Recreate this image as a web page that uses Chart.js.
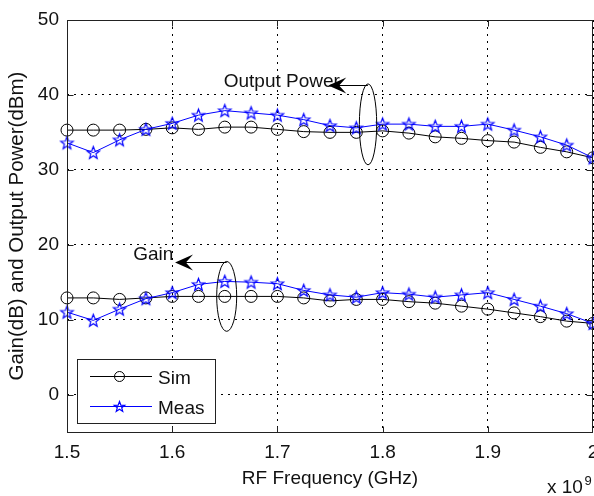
<!DOCTYPE html>
<html><head><meta charset="utf-8">
<script src="https://cdn.jsdelivr.net/npm/chart.js@4/dist/chart.umd.min.js"></script>
<style>html,body{margin:0;padding:0;background:#fff;overflow:hidden}#wrap{width:594px;height:496px;position:relative}</style>
</head><body><div id="wrap"><canvas id="c" width="594" height="496"></canvas></div>
<script>
// ---- data ----
const freqGHz   = [1.5,1.525,1.55,1.575,1.6,1.625,1.65,1.675,1.7,1.725,1.75,1.775,1.8,1.825,1.85,1.875,1.9,1.925,1.95,1.975,2.0];
const powerSim  = [35.3,35.3,35.3,35.4,35.6,35.4,35.7,35.7,35.4,35.1,35.0,35.0,35.2,34.9,34.4,34.2,33.9,33.7,33.0,32.4,31.6];
const powerMeas = [33.6,32.3,34.0,35.4,36.2,37.3,37.9,37.6,37.3,36.7,35.9,35.6,36.1,36.1,35.8,35.8,36.1,35.3,34.4,33.3,31.6];
const gainSim   = [12.9,12.9,12.7,12.9,13.1,13.1,13.1,13.1,13.1,12.9,12.5,12.7,12.7,12.4,12.2,11.8,11.4,10.9,10.4,9.8,9.5];
const gainMeas  = [11.0,9.9,11.4,12.8,13.6,14.7,15.1,15.0,14.8,13.9,13.3,13.0,13.6,13.4,13.0,13.3,13.6,12.7,11.8,10.8,9.5];
const xTicks = [1.5,1.6,1.7,1.8,1.9,2.0];
const xTickLabels = ['1.5','1.6','1.7','1.8','1.9','2'];
const yTicks = [0,10,20,30,40,50];
const yTickLabels = ['0','10','20','30','40','50'];
const seriesNames = ['Sim','Meas'];
const xTitle = 'RF Frequency (GHz)';
const yTitle = 'Gain(dB) and Output Power(dBm)';
const xExponentBase = 'x 10';
const xExponent = '9';
const powerLabel = 'Output Power';
const gainLabel = 'Gain';

const FONT = "'Liberation Sans', Arial, Helvetica, sans-serif";
const TXT = '#111';
const BLUE = '#0000ff';

function makeStar(r, color){
  const s = Math.ceil(2*r + 4);
  const c = document.createElement('canvas');
  c.width = c.height = s;
  const g = c.getContext('2d');
  g.strokeStyle = color; g.lineWidth = 1.2;
  g.beginPath();
  for (let i = 0; i < 10; i++) {
    const a = -Math.PI/2 + i*Math.PI/5;
    const rr = (i % 2) ? r*0.42 : r;
    const px = s/2 + rr*Math.cos(a), py = s/2 + 0.5 + rr*Math.sin(a);
    if (i) g.lineTo(px, py); else g.moveTo(px, py);
  }
  g.closePath(); g.stroke();
  return c;
}
const starImg = makeStar(6.5, BLUE);
const starLegend = makeStar(5.5, BLUE);

const pts = arr => freqGHz.map((f, i) => ({x: f, y: arr[i]}));
const simStyle = {borderColor:'#000', backgroundColor:'rgba(0,0,0,0)', borderWidth:1, pointStyle:'circle', pointRadius:6,
  pointBorderColor:'#000', pointBackgroundColor:'rgba(0,0,0,0)', pointBorderWidth:1, tension:0, clip:false, order:1};
const measStyle = {borderColor:BLUE, backgroundColor:'rgba(0,0,0,0)', borderWidth:1, pointStyle:starImg, pointRadius:6,
  pointBorderColor:BLUE, pointBackgroundColor:'rgba(0,0,0,0)', pointBorderWidth:1, tension:0, clip:false, order:0};

function arrow(ctx, x1, y1, xt, yt){
  ctx.beginPath(); ctx.moveTo(x1, y1); ctx.lineTo(xt + 10, yt); ctx.stroke();
  const L = 18, W = 8;
  ctx.beginPath();
  ctx.moveTo(xt, yt);
  ctx.lineTo(xt + L, yt - W);
  ctx.lineTo(xt + L*0.6, yt);
  ctx.lineTo(xt + L, yt + W);
  ctx.closePath(); ctx.fill();
}
function ellipse(ctx, xs, ys, x0, x1, y0, y1){
  const a = xs.getPixelForValue(x0), b = xs.getPixelForValue(x1);
  const c = ys.getPixelForValue(y0), d = ys.getPixelForValue(y1);
  ctx.beginPath();
  ctx.ellipse((a+b)/2, (c+d)/2, Math.abs(b-a)/2, Math.abs(d-c)/2, 0, 0, Math.PI*2);
  ctx.stroke();
}

const zeroPad = () => ({left: 0, top: 0, right: 0, bottom: 0});

const framePlugin = {
  id: 'frame',
  afterLayout(chart){
    // keep the plot area running to the right edge, like the reference
    const target = chart.width - 1;
    const ca = chart.chartArea, xs = chart.scales.x;
    if (Math.abs(ca.right - target) > 0.1) {
      ca.right = target; ca.width = target - ca.left;
      xs.right = target; xs.width = target - xs.left;
      xs.configure();
    }
  },
  afterDraw(chart){
    const {ctx, chartArea: ca, scales: {x, y}} = chart;
    ctx.save();
    // annotations
    ctx.strokeStyle = '#000'; ctx.fillStyle = TXT; ctx.lineWidth = 1;
    ctx.font = '19px ' + FONT; ctx.textAlign = 'left'; ctx.textBaseline = 'middle';
    ctx.fillText(powerLabel, x.getPixelForValue(1.649), y.getPixelForValue(41.7));
    ctx.fillText(gainLabel, x.getPixelForValue(1.563), y.getPixelForValue(18.6));
    ctx.fillStyle = '#000';
    ellipse(ctx, x, y, 1.7779, 1.7944, 30.67, 41.47);
    ellipse(ctx, x, y, 1.6423, 1.6613, 8.44, 17.77);
    arrow(ctx, x.getPixelForValue(1.786), Math.round(y.getPixelForValue(41.33))+0.5, x.getPixelForValue(1.7484), Math.round(y.getPixelForValue(41.33))+0.5);
    arrow(ctx, x.getPixelForValue(1.6518), Math.round(y.getPixelForValue(17.64))+0.5, x.getPixelForValue(1.6027), Math.round(y.getPixelForValue(17.64))+0.5);

    // axes box and inward ticks
    const L = Math.floor(ca.left) + 0.5, R = Math.round(ca.right) - 0.5;
    const T = Math.floor(ca.top) + 0.5, B = Math.round(ca.bottom) + 0.5;
    ctx.strokeStyle = '#222'; ctx.lineWidth = 1; ctx.setLineDash([]);
    ctx.strokeRect(L, T, R - L, B - T);
    ctx.beginPath();
    const tl = 6;
    xTicks.forEach(v => { const px = Math.min(Math.round(x.getPixelForValue(v)) + 0.5, R);
      ctx.moveTo(px, B); ctx.lineTo(px, B - tl); ctx.moveTo(px, T); ctx.lineTo(px, T + tl); });
    yTicks.forEach(v => { const py = Math.round(y.getPixelForValue(v)) + 0.5;
      ctx.moveTo(L, py); ctx.lineTo(L + tl, py); ctx.moveTo(R, py); ctx.lineTo(R - tl, py); });
    ctx.stroke();

    // legend
    const lx0 = 77.5, ly0 = 359.5, lx1 = 215.5, ly1 = 423.5;
    ctx.fillStyle = '#fff'; ctx.fillRect(lx0, ly0, lx1 - lx0, ly1 - ly0);
    ctx.strokeStyle = '#222'; ctx.strokeRect(lx0, ly0, lx1 - lx0, ly1 - ly0);
    const rows = [{y: 376.5, color: '#000', marker: 'circle'}, {y: 406.5, color: BLUE, marker: 'star'}];
    rows.forEach((r, i) => {
      ctx.strokeStyle = r.color; ctx.lineWidth = 1;
      ctx.beginPath(); ctx.moveTo(90, r.y); ctx.lineTo(152, r.y); ctx.stroke();
      if (r.marker === 'circle') {
        ctx.beginPath(); ctx.arc(119.5, r.y, 5, 0, Math.PI*2); ctx.stroke();
      } else {
        ctx.drawImage(starLegend, 119.5 - starLegend.width/2, r.y - starLegend.height/2);
      }
      ctx.fillStyle = TXT; ctx.font = '19px ' + FONT; ctx.textAlign = 'left'; ctx.textBaseline = 'middle';
      ctx.fillText(seriesNames[i], 158, r.y + 2);
    });

    // exponent label
    ctx.fillStyle = TXT; ctx.textBaseline = 'alphabetic'; ctx.textAlign = 'left';
    ctx.font = '19px ' + FONT; ctx.fillText(xExponentBase, 547, 493);
    ctx.font = '13px ' + FONT; ctx.fillText(xExponent, 584.5, 485);
    ctx.restore();
  }
};

new Chart(document.getElementById('c'), {
  type: 'line',
  data: { datasets: [
    Object.assign({label: 'Output Power Sim', data: pts(powerSim)}, simStyle),
    Object.assign({label: 'Output Power Meas', data: pts(powerMeas)}, measStyle),
    Object.assign({label: 'Gain Sim', data: pts(gainSim)}, simStyle),
    Object.assign({label: 'Gain Meas', data: pts(gainMeas)}, measStyle)
  ]},
  options: {
    animation: false, responsive: false, devicePixelRatio: 1, events: [],
    layout: {padding: {left: 0, right: 1, top: 20, bottom: 0}},
    plugins: {legend: {display: false}, tooltip: {enabled: false}},
    scales: {
      x: {
        type: 'linear', min: 1.5, max: 2.0,
        afterBuildTicks: s => { s.ticks = xTicks.map(v => ({value: v})); },
        afterFit: s => { s.height = 64; s.paddingLeft = 0; s.paddingRight = 0; s.getPadding = zeroPad; },
        ticks: {callback: (v, i) => xTickLabels[i], font: {family: FONT, size: 19}, color: TXT, padding: 9, maxRotation: 0, autoSkip: false},
        grid: {color: '#000', lineWidth: 1, drawTicks: false},
        border: {display: false, dash: [2, 5]},
        title: {display: true, text: xTitle, font: {family: FONT, size: 19}, color: TXT, padding: {top: 0, bottom: 6}}
      },
      y: {
        type: 'linear', min: -5, max: 50,
        afterBuildTicks: s => { s.ticks = yTicks.map(v => ({value: v})); },
        afterFit: s => { s.width = 67; s.paddingTop = 0; s.paddingBottom = 0; s.getPadding = zeroPad; },
        ticks: {callback: (v, i) => yTickLabels[i], font: {family: FONT, size: 19}, color: TXT, padding: 8},
        grid: {color: '#000', lineWidth: 1, drawTicks: false},
        border: {display: false, dash: [2, 5]},
        title: {display: true, text: yTitle, font: {family: FONT, size: 20.5}, color: TXT, padding: {top: 5, bottom: 0}}
      }
    }
  },
  plugins: [framePlugin]
});
</script></body></html>
